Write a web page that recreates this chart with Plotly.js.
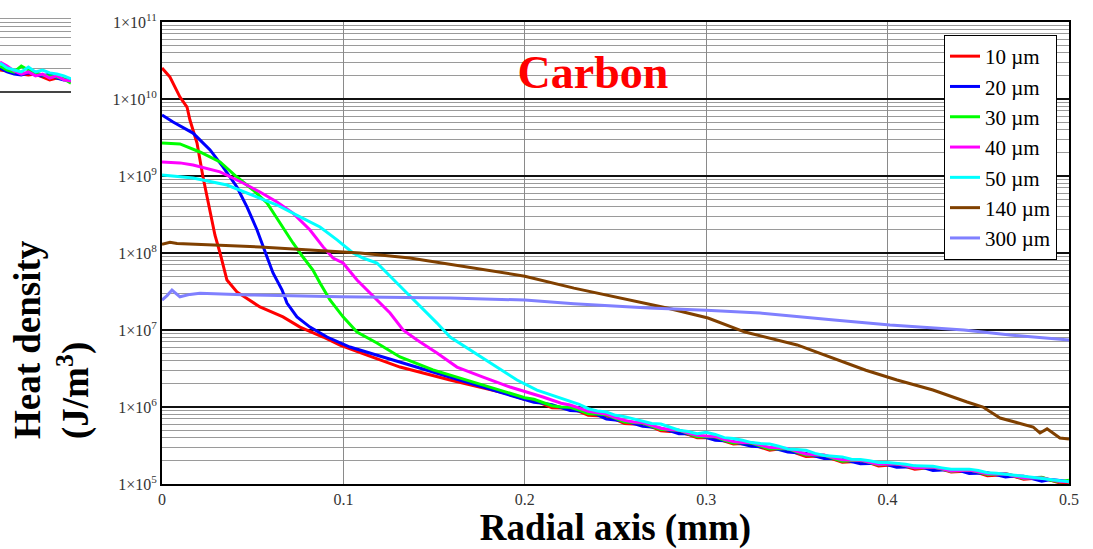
<!DOCTYPE html>
<html><head><meta charset="utf-8">
<script src="https://cdn.plot.ly/plotly-3.0.1.min.js"></script>
<style>html,body{margin:0;padding:0;background:#fff}#chart{width:1093px;height:549px}</style>
</head><body><div id="chart"></div>
<script>
// ---- data ----
const seriesNames = ['10 \u00b5m','20 \u00b5m','30 \u00b5m','40 \u00b5m','50 \u00b5m','140 \u00b5m','300 \u00b5m'];
const seriesColors = ['#ff0000','#0000ff','#00ff00','#ff00ff','#00ffff','#804000','#8080ff'];

const tailX = [0.200,0.205,0.210,0.215,0.220,0.225,0.230,0.235,0.240,0.245,
               0.250,0.255,0.260,0.265,0.270,0.275,0.280,0.285,0.290,0.295,
               0.300,0.305,0.310,0.315,0.320,0.325,0.330,0.335,0.340,0.345,
               0.350,0.355,0.360,0.365,0.370,0.375,0.380,0.385,0.390,0.395,
               0.400,0.405,0.410,0.415,0.420,0.425,0.430,0.435,0.440,0.445,
               0.450,0.455,0.460,0.465,0.470,0.475,0.480,0.485,0.490,0.495,0.500];

const x10 = [0,0.0044,0.0099,0.0138,0.0154,0.0193,0.0226,0.0248,0.0265,0.0292,0.032,0.0358,0.0413,0.0485,0.054,0.0667,0.0761,0.0888,0.0981,0.113,0.1312,0.1588,0.177,0.19];
const y10 = [2.53e10,1.93e10,1.06e10,7.87e9,5.33e9,2.68e9,9.7e8,5.33e8,3.3e8,1.7e8,1.0e8,4.46e7,3.12e7,2.45e7,1.99e7,1.48e7,1.09e7,8.11e6,6.38e6,4.73e6,3.3e6,2.24e6,1.77e6,1.5e6];
const tail10 = [1.25e6,1.24e6,1.10e6,9.8e5,9.7e5,9.6e5,8.8e5,7.8e5,7.7e5,7.7e5,
                6.9e5,6.1e5,6.0e5,6.1e5,5.5e5,4.9e5,4.8e5,4.8e5,4.4e5,4.0e5,
                4.0e5,4.0e5,3.6e5,3.3e5,3.35e5,3.33e5,3.0e5,2.75e5,2.85e5,2.83e5,
                2.5e5,2.28e5,2.3e5,2.31e5,2.1e5,1.92e5,1.95e5,2.0e5,1.88e5,1.72e5,
                1.75e5,1.81e5,1.68e5,1.56e5,1.6e5,1.65e5,1.55e5,1.43e5,1.45e5,1.5e5,
                1.4e5,1.28e5,1.3e5,1.34e5,1.25e5,1.15e5,1.18e5,1.21e5,1.12e5,1.03e5,1.05e5];

const x20 = [0,0.0061,0.0171,0.0265,0.0336,0.0413,0.0469,0.0524,0.0579,0.0612,0.0662,0.0689,0.0744,0.0816,0.091,0.1036,0.1218,0.1406,0.1588,0.177,0.1957];
const y20 = [6.2e9,5.03e9,3.61e9,2.18e9,1.31e9,7.2e8,3.95e8,1.99e8,8.87e7,5.5e7,3.3e7,2.24e7,1.48e7,1.09e7,8.11e6,6.01e6,4.46e6,3.3e6,2.45e6,1.82e6,1.35e6];
const tail20 = [1.27e6,1.15e6,1.12e6,1.07e6,9.8e5,9.0e5,8.9e5,8.6e5,7.9e5,7.0e5,
                6.8e5,6.6e5,6.1e5,5.6e5,5.5e5,5.3e5,4.9e5,4.5e5,4.5e5,4.3e5,
                4.0e5,3.7e5,3.65e5,3.55e5,3.3e5,3.1e5,3.05e5,2.98e5,2.8e5,2.6e5,
                2.55e5,2.5e5,2.3e5,2.14e5,2.15e5,2.1e5,1.95e5,1.83e5,1.85e5,1.86e5,
                1.78e5,1.65e5,1.66e5,1.7e5,1.62e5,1.5e5,1.52e5,1.54e5,1.48e5,1.37e5,
                1.38e5,1.4e5,1.32e5,1.23e5,1.27e5,1.26e5,1.17e5,1.09e5,1.14e5,1.12e5,1.08e5];

const x30 = [0,0.0099,0.0209,0.032,0.0413,0.0502,0.0579,0.065,0.0722,0.0777,0.0832,0.0871,0.0926,0.0998,0.1075,0.1185,0.1312,0.1494,0.1681,0.1863];
const y30 = [2.68e9,2.61e9,2.05e9,1.52e9,9.7e8,6.58e8,4.46e8,2.45e8,1.35e8,8.87e7,6.01e7,4.07e7,2.45e7,1.48e7,9.42e6,6.78e6,4.46e6,3.03e6,2.24e6,1.66e6];
const tail30 = [1.32e6,1.26e6,1.15e6,1.04e6,1.0e6,9.9e5,9.1e5,8.2e5,8.1e5,7.9e5,
                7.1e5,6.4e5,6.3e5,6.2e5,5.6e5,5.1e5,5.05e5,5.0e5,4.5e5,4.1e5,
                4.15e5,4.1e5,3.7e5,3.4e5,3.45e5,3.4e5,3.1e5,2.85e5,2.9e5,2.88e5,
                2.6e5,2.38e5,2.4e5,2.37e5,2.15e5,1.98e5,2.02e5,2.04e5,1.9e5,1.78e5,
                1.82e5,1.84e5,1.72e5,1.62e5,1.63e5,1.66e5,1.56e5,1.47e5,1.5e5,1.52e5,
                1.43e5,1.33e5,1.34e5,1.37e5,1.27e5,1.18e5,1.21e5,1.22e5,1.12e5,1.06e5,1.12e5];

const x40 = [0,0.0099,0.0171,0.032,0.0447,0.054,0.0634,0.0722,0.0816,0.0888,0.0943,0.0998,0.1075,0.1185,0.1257,0.1329,0.1406,0.1516,0.1626,0.177,0.1918,0.21];
const y40 = [1.52e9,1.48e9,1.39e9,1.13e9,8.11e8,6.19e8,4.59e8,3.3e8,1.99e8,1.2e8,8.61e7,7.41e7,4.46e7,2.45e7,1.66e7,1.0e7,7.41e6,5.02e6,3.3e6,2.45e6,1.82e6,1.35e6];
const tail40 = [1.12e6,1.06e6,9.6e5,8.8e5,8.4e5,8.1e5,
                7.3e5,6.7e5,6.4e5,6.3e5,5.8e5,5.3e5,5.1e5,5.0e5,4.6e5,4.3e5,
                4.2e5,4.15e5,3.8e5,3.55e5,3.45e5,3.45e5,3.2e5,2.97e5,2.95e5,2.9e5,
                2.65e5,2.45e5,2.4e5,2.38e5,2.2e5,2.06e5,2.05e5,2.04e5,1.92e5,1.8e5,
                1.82e5,1.83e5,1.74e5,1.63e5,1.64e5,1.66e5,1.58e5,1.48e5,1.5e5,1.52e5,
                1.44e5,1.36e5,1.35e5,1.36e5,1.27e5,1.2e5,1.21e5,1.2e5,1.14e5,1.08e5,1.07e5];

const x50 = [0,0.0116,0.0171,0.0358,0.0502,0.0634,0.0761,0.0871,0.0965,0.1053,0.1108,0.1185,0.1295,0.1406,0.1516,0.1588,0.1698,0.1847,0.1957,0.2067,0.2194,0.2233];
const y50 = [1.03e9,9.7e8,9.42e8,7.64e8,5.66e8,4.2e8,2.94e8,2.18e8,1.48e8,1.0e8,8.61e7,7.41e7,4.07e7,2.24e7,1.23e7,8.11e6,5.5e6,3.3e6,2.24e6,1.66e6,1.31e6,1.23e6];
const tail50 = [1.08e6,9.5e5,8.9e5,8.6e5,
                7.8e5,7.5e5,7.0e5,6.4e5,6.1e5,6.0e5,5.5e5,5.0e5,4.8e5,4.5e5,
                4.7e5,4.4e5,4.0e5,3.9e5,3.7e5,3.45e5,3.35e5,3.3e5,3.1e5,2.85e5,
                2.8e5,2.75e5,2.5e5,2.35e5,2.3e5,2.25e5,2.1e5,2.08e5,2.0e5,1.9e5,
                1.9e5,1.87e5,1.8e5,1.72e5,1.72e5,1.7e5,1.62e5,1.55e5,1.55e5,1.56e5,
                1.5e5,1.4e5,1.38e5,1.35e5,1.3e5,1.26e5,1.22e5,1.2e5,1.15e5,1.1e5,1.07e5];

const x140 = [0,0.0044,0.0083,0.0265,0.054,0.0816,0.1092,0.1367,0.1863,0.2,0.2271,0.258,0.2784,0.301,0.3214,0.3501,0.3705,0.388,0.4052,0.425,0.4438,0.4526,0.462,0.4802,0.484,0.4879,0.495,0.5];
const y140 = [1.3e8,1.38e8,1.33e8,1.27e8,1.2e8,1.09e8,1.0e8,8.6e7,5.6e7,5.0e7,3.5e7,2.45e7,1.93e7,1.43e7,9.4e6,6.4e6,4.3e6,3.0e6,2.24e6,1.66e6,1.16e6,1.0e6,7.2e5,5.5e5,4.6e5,5.2e5,3.95e5,3.84e5];

const x300 = [0,0.0028,0.0055,0.0099,0.0154,0.0209,0.0485,0.0981,0.1588,0.2,0.2271,0.2685,0.3,0.3297,0.3705,0.4013,0.4421,0.4675,0.5];
const y300 = [2.45e7,2.8e7,3.3e7,2.7e7,2.9e7,3.0e7,2.85e7,2.7e7,2.6e7,2.45e7,2.2e7,1.93e7,1.8e7,1.66e7,1.35e7,1.16e7,1.0e7,8.6e6,7.4e6];

const yTickVals = [1e5,1e6,1e7,1e8,1e9,1e10,1e11];
const yTickText = ['1\u00d710<sup>5</sup>','1\u00d710<sup>6</sup>','1\u00d710<sup>7</sup>','1\u00d710<sup>8</sup>','1\u00d710<sup>9</sup>','1\u00d710<sup>10</sup>','1\u00d710<sup>11</sup>'];
const xTickVals = [0,0.1,0.2,0.3,0.4,0.5];

// cropped neighbouring panel at top-left
const fragX = [0,0.1,0.2,0.3,0.4,0.5,0.6,0.7,0.8,0.9,1];
const fragCyan = [2.34,2.01,1.89,1.78,2.07,1.78,1.89,1.73,1.67,1.58,1.44];
const fragMagenta = [2.41,2.13,1.83,1.67,1.78,1.58,1.67,1.48,1.58,1.40,1.35];
const fragGreen = [2.13,1.89,1.78,2.13,1.89,1.73,1.62,1.58,1.53,1.44,1.27];
const fragBlue = [2.01,1.78,1.67,1.62,1.73,1.62,1.58,1.67,1.48,1.40,1.40];
const fragRed = [1.89,1.83,1.73,1.67,1.62,1.67,1.53,1.40,1.48,1.44,1.35];

// ---- build traces ----
const xs = [x10.concat(tailX), x20.concat(tailX), x30.concat(tailX), x40.concat(tailX.slice(4)), x50.concat(tailX.slice(6)), x140, x300];
const ys = [y10.concat(tail10), y20.concat(tail20), y30.concat(tail30), y40.concat(tail40), y50.concat(tail50), y140, y300];
const traces = seriesNames.map((n,i)=>({
  type:'scatter', mode:'lines', name:n, x:xs[i], y:ys[i],
  line:{color:seriesColors[i], width:3}, xaxis:'x', yaxis:'y'
}));
const fragSeries = [fragRed, fragBlue, fragGreen, fragMagenta, fragCyan];
const fragColors = ['#ff0000','#0000ff','#00ff00','#ff00ff','#00ffff'];
fragSeries.forEach((s,i)=>traces.push({
  type:'scatter', mode:'lines', x:fragX, y:s, showlegend:false,
  line:{color:fragColors[i], width:3}, xaxis:'x2', yaxis:'y2'
}));

const W=1093,H=549, L=162,R=1069,T=22,B=484;
const serif = 'Liberation Serif, Times New Roman, serif';
const layout = {
  width:W, height:H, margin:{l:0,r:0,t:0,b:0},
  paper_bgcolor:'#fff', plot_bgcolor:'#fff',
  font:{family:serif, color:'#222'},
  title:{text:'Carbon', x:593/W, xanchor:'center', y:1-72/H, yanchor:'middle',
         font:{family:serif, size:46, color:'#ff0000', weight:'bold'}},
  xaxis:{domain:[L/W,R/W], range:[0,0.5], tickvals:xTickVals, showgrid:true, gridcolor:'#8a8a8a', gridwidth:1,
         zeroline:false, showline:true, linecolor:'#000', linewidth:2, mirror:true, ticks:'',
         tickfont:{family:serif, size:16, color:'#333'},
         title:{text:'Radial axis (mm)', standoff:14, font:{family:serif, size:37, color:'#000', weight:'bold'}}},
  yaxis:{domain:[1-B/H,1-T/H], type:'log', range:[5,11], tickvals:yTickVals, ticktext:yTickText,
         showgrid:true, gridcolor:'#111', gridwidth:2,
         minor:{dtick:'D1', showgrid:true, gridcolor:'#9a9a9a', gridwidth:1, ticks:''},
         zeroline:false, showline:true, linecolor:'#000', linewidth:2, mirror:true, ticks:'',
         tickfont:{family:serif, size:16, color:'#333'}},
  xaxis2:{domain:[0,71/W], range:[0,1], anchor:'y2', showgrid:false, showticklabels:false, zeroline:false,
          showline:true, linecolor:'#444', linewidth:2, ticks:''},
  yaxis2:{domain:[1-91/H,1-15/H], type:'log', range:[0,1], anchor:'x2', dtick:1, showgrid:true, gridcolor:'#444', gridwidth:2,
          minor:{dtick:'D1', showgrid:true, gridcolor:'#9a9a9a', gridwidth:1, ticks:''},
          showticklabels:false, ticks:'', showline:false, zeroline:false},
  legend:{x:1057/W, xanchor:'right', y:1-35/H, yanchor:'top', bgcolor:'#fff', bordercolor:'#000', borderwidth:1,
          font:{family:serif, size:21, color:'#000'}},
  annotations:[{text:'Heat density<br>(J/m<sup>3</sup>)', textangle:-90, xref:'paper', yref:'paper',
                x:52/W, y:1-340/H, xanchor:'center', yanchor:'middle', showarrow:false, align:'left',
                font:{family:serif, size:37, color:'#000', weight:'bold'}}]
};
Plotly.newPlot('chart', traces, layout, {staticPlot:true, displayModeBar:false});
</script></body></html>
